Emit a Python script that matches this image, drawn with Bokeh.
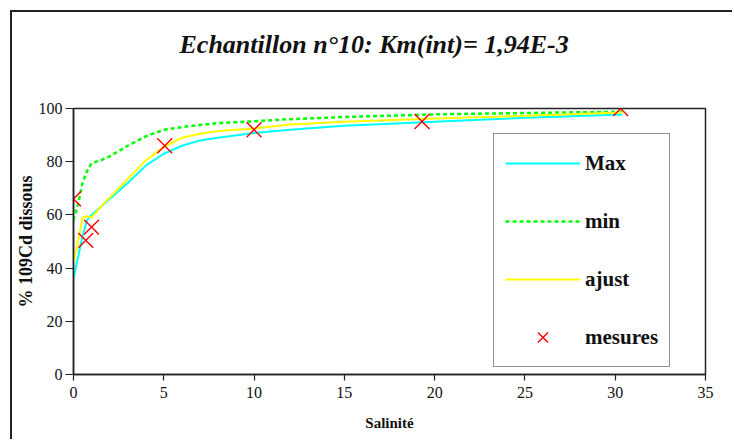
from bokeh.plotting import figure
from bokeh.models import Range1d, FixedTicker, Legend, LegendItem, Title
from bokeh.embed import file_html
from bokeh.resources import INLINE

# ---- data ----
x_curve = [0, 0.25, 0.5, 0.75, 1, 1.5, 2, 3, 4, 5, 6, 7, 8, 10, 12, 15, 20, 25, 30.4]
y_max = [36, 44, 52, 58, 60, 63, 66, 72, 78.5, 83, 86, 88, 89, 90.8, 92, 93.5, 95, 96.5, 97.7]
y_min = [58, 64, 72, 76.5, 79.5, 80.5, 82, 86, 89.5, 92, 93, 93.8, 94.5, 95.2, 96, 96.8, 97.8, 98.3, 98.8]
y_ajust = [42, 50, 59, 59.5, 59, 63, 66.5, 73.5, 80.5, 85.5, 89, 90.5, 91.5, 92.5, 94, 95, 96.2, 97.3, 98.5]
x_mes = [0, 0.68, 1.0, 5.05, 10.0, 19.3, 30.3]
y_mes = [66, 50.4, 55.4, 86, 92, 95.1, 100]
x_ticks = [0, 5, 10, 15, 20, 25, 30, 35]
y_ticks = [0, 20, 40, 60, 80, 100]
title_text = "Echantillon n°10: Km(int)= 1,94E-3"

FONT = "'Liberation Serif', 'Times New Roman', serif"

p = figure(width=722, height=429, output_backend="svg", toolbar_location=None,
           x_range=Range1d(0, 35), y_range=Range1d(0, 100),
           min_border_left=60, min_border_right=29, min_border_top=96, min_border_bottom=67)
p.styles = {"margin-left": "10px", "margin-top": "10px",
            "border-top": "2px solid #222", "border-left": "2px solid #222"}

p.xgrid.visible = False
p.ygrid.visible = False
p.outline_line_color = "#222222"
p.outline_line_width = 1.5
p.background_fill_color = "white"
p.border_fill_color = "white"

for ax in (p.xaxis[0], p.yaxis[0]):
    ax.axis_line_color = "#222222"
    ax.axis_line_width = 1.5
    ax.major_tick_line_color = "#222222"
    ax.major_tick_line_width = 1.2
    ax.minor_tick_line_color = None
    ax.major_tick_in = 0
    ax.major_label_text_font = FONT
    ax.major_label_text_font_size = "16px"
    ax.major_label_text_color = "#111111"
    ax.axis_label_text_font = FONT
    ax.axis_label_text_font_style = "bold"
    ax.axis_label_text_color = "#111111"

p.xaxis[0].axis_label_text_font_size = "15px"
p.yaxis[0].axis_label_text_font_size = "18px"
p.xaxis[0].ticker = FixedTicker(ticks=x_ticks)
p.yaxis[0].ticker = FixedTicker(ticks=y_ticks)
p.xaxis[0].major_tick_out = 6
p.yaxis[0].major_tick_out = 8
p.xaxis[0].major_label_standoff = 6
p.yaxis[0].major_label_standoff = 3
p.xaxis[0].axis_label = "Salinité"
p.yaxis[0].axis_label = "% 109Cd dissous"
p.xaxis[0].axis_label_standoff = 14
p.yaxis[0].axis_label_standoff = 0

r_max = p.line(x_curve, y_max, line_color="#00FFFF", line_width=2)
r_min = p.line(x_curve, y_min, line_color="#00FF00", line_width=2.5, line_dash="4 3")
r_aj = p.line(x_curve, y_ajust, line_color="#FFFF00", line_width=2)
r_mes = p.scatter(x_mes, y_mes, marker="x", size=21, line_color="#FF0000", line_width=1.4)

legend = Legend(items=[
    LegendItem(label="Max", renderers=[r_max]),
    LegendItem(label="min", renderers=[r_min]),
    LegendItem(label="ajust", renderers=[r_aj]),
    LegendItem(label="mesures", renderers=[r_mes]),
], location=(420, 7))
legend.label_text_font = FONT
legend.label_text_font_style = "bold"
legend.label_text_font_size = "21px"
legend.label_text_color = "#111111"
legend.border_line_color = "#222222"
legend.border_line_width = 1
legend.background_fill_color = "white"
legend.background_fill_alpha = 1
legend.padding = 11
legend.spacing = 22
legend.glyph_width = 75
legend.glyph_height = 36
legend.label_height = 36
legend.label_standoff = 5
legend.margin = 0
p.add_layout(legend, "center")

# spacer (closest to the frame) then the real title
p.add_layout(Title(text=" ", text_font_size="43px", standoff=0), "above")
p.add_layout(Title(text=title_text, text_font=FONT, text_font_style="bold italic",
                   text_font_size="26px", align="left", offset=106,
                   text_color="#111111", standoff=0), "above")

open("out.html", "w").write(file_html(p, INLINE))
